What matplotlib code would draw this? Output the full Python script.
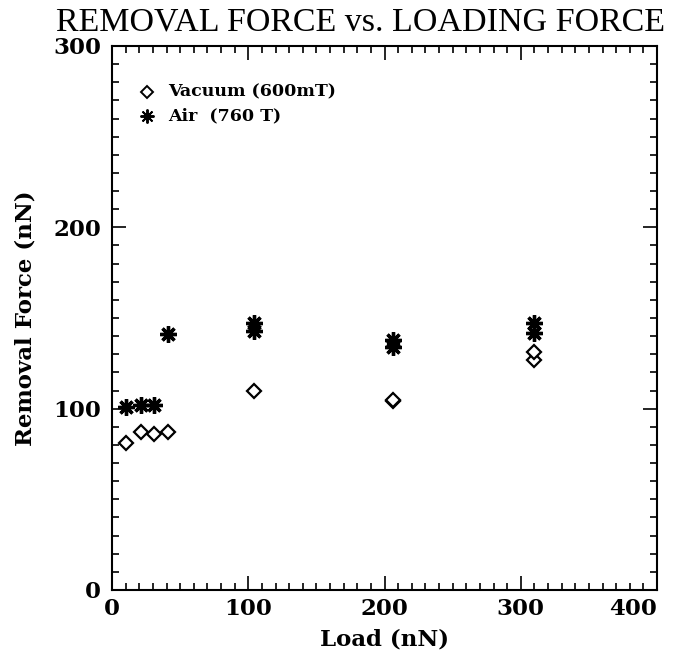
import numpy as np
import matplotlib.pyplot as plt
from matplotlib.ticker import MultipleLocator

# data
vac_load = [10, 21, 31, 41, 104, 206, 206, 310, 310]
vac_force = [81, 87, 86, 87, 110, 104, 105, 127, 131]
air_load = [10, 21, 31, 41, 104, 104, 206, 206, 310, 310]
air_force = [101, 102, 102, 141, 143, 147, 134, 138, 142, 147]

x_ticks = [0, 100, 200, 300, 400]
y_ticks = [0, 100, 200, 300]

title_txt = 'REMOVAL FORCE vs. LOADING FORCE'
vac_label = 'Vacuum (600mT)'
air_label = 'Air  (760 T)'

fig = plt.figure(figsize=(6.87, 6.61), dpi=100)
ax = fig.add_axes([112/687, 1 - 590/661, 545/687, 544/661])

ax.plot(vac_load, vac_force, linestyle='none', marker='D', markersize=7,
        markerfacecolor='white', markeredgecolor='black', markeredgewidth=1.6)
ax.plot(air_load, air_force, linestyle='none', marker=(8, 2, 0), markersize=12,
        color='black', markeredgewidth=2.4)

ax.set_xlim(0, 400)
ax.set_ylim(0, 300)
ax.set_xticks(x_ticks)
ax.set_yticks(y_ticks)
ax.xaxis.set_minor_locator(MultipleLocator(10))
ax.yaxis.set_minor_locator(MultipleLocator(10))
ax.tick_params(which='both', direction='in', top=True, right=True, width=1.2)
ax.tick_params(which='major', length=10)
ax.tick_params(which='minor', length=5)
ax.tick_params(axis='x', pad=6)
ax.tick_params(axis='y', pad=8)
for s in ax.spines.values():
    s.set_linewidth(1.5)

lab_font = dict(family='DejaVu Serif', weight='bold', size=16.5)
ax.set_xticklabels([str(v) for v in x_ticks], fontdict=lab_font)
ax.set_yticklabels([str(v) for v in y_ticks], fontdict=lab_font)
# the last x label sits inside the frame in the original
ax.xaxis.get_major_ticks()[-1].label1.set_horizontalalignment('right')

ax.set_xlabel('Load (nN)', fontdict=lab_font, labelpad=6)
ax.set_ylabel('Removal Force (nN)', fontdict=lab_font, labelpad=12)

# legend drawn by hand like the original
ax.plot([0.064], [0.915], transform=ax.transAxes, marker='D', markersize=6,
        markerfacecolor='white', markeredgecolor='black', markeredgewidth=1.4,
        clip_on=False)
ax.plot([0.064], [0.871], transform=ax.transAxes, marker=(8, 2, 0), markersize=10,
        color='black', markeredgewidth=1.4, clip_on=False)
ax.text(0.103, 0.915, vac_label, transform=ax.transAxes, va='center',
        family='DejaVu Serif', weight='bold', size=12.5)
ax.text(0.103, 0.871, air_label, transform=ax.transAxes, va='center',
        family='DejaVu Serif', weight='bold', size=12.5)

fig.text(360/687, 1 - 22/661, title_txt, ha='center', va='center',
         family='Liberation Serif', size=24.5)

fig.savefig('out.png', dpi=100)
